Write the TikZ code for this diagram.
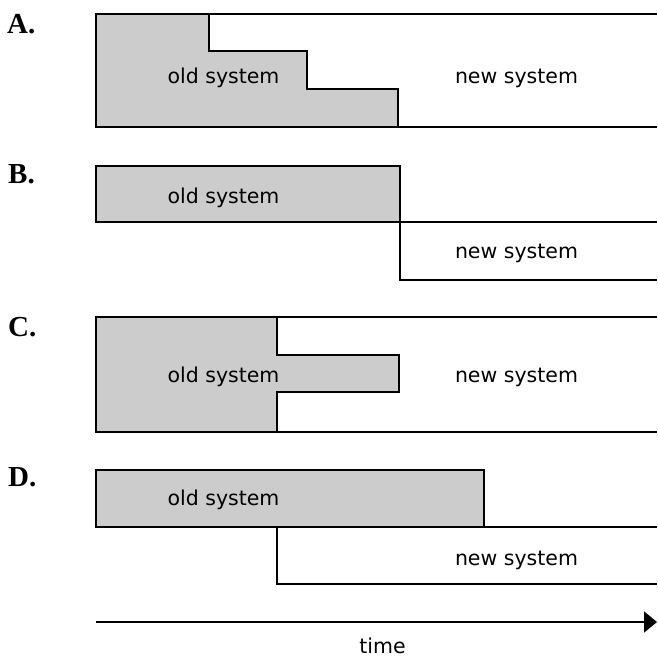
\documentclass[tikz,border=0pt]{standalone}
\usepackage{fontspec}
\setmainfont{DejaVu Sans}
\newfontfamily\labelfont{Liberation Serif}
\usetikzlibrary{arrows.meta}
\definecolor{oldgray}{RGB}{204,204,204}
\begin{document}
\begin{tikzpicture}[x=1pt,y=-1pt,
  outline/.style={draw=black,line width=2pt,line join=miter},
  oldfill/.style={fill=oldgray},
  boxtext/.style={anchor=base,inner sep=0pt,font=\fontsize{20.5}{24}\selectfont},
  rowlabel/.style={anchor=base west,inner sep=0pt,font=\labelfont\bfseries\fontsize{29}{32}\selectfont}]
\useasboundingbox (0,0) rectangle (657,657);
\fill[white] (0,0) rectangle (657,657);

% ---------- A ----------
\fill[oldfill] (96,14) -- (209,14) -- (209,51) -- (307,51) -- (307,89) -- (398,89) -- (398,127) -- (96,127) -- cycle;
\draw[outline] (657,14) -- (96,14) -- (96,127) -- (657,127);
\draw[outline] (209,14) -- (209,51) -- (307,51) -- (307,89) -- (398,89) -- (398,127);
\node[rowlabel] (labA) at (7,33) {A.};
\node[boxtext] (oldA) at (223.5,83) {old system};
\node[boxtext] (newA) at (516.5,83) {new system};

% ---------- B ----------
\fill[oldfill] (96,166) rectangle (400,222);
\draw[outline] (96,166) rectangle (400,222);
\draw[outline] (657,222) -- (400,222) -- (400,280) -- (657,280);
\node[rowlabel] (labB) at (8,183) {B.};
\node[boxtext] (oldB) at (223.5,203) {old system};
\node[boxtext] (newB) at (516.5,258) {new system};

% ---------- C ----------
\fill[oldfill] (96,317) -- (277,317) -- (277,355) -- (399,355) -- (399,392) -- (277,392) -- (277,432) -- (96,432) -- cycle;
\draw[outline] (657,317) -- (96,317) -- (96,432) -- (657,432);
\draw[outline] (277,317) -- (277,355) -- (399,355) -- (399,392) -- (277,392) -- (277,432);
\node[rowlabel] (labC) at (8,336) {C.};
\node[boxtext] (oldC) at (223.5,382) {old system};
\node[boxtext] (newC) at (516.5,382) {new system};

% ---------- D ----------
\fill[oldfill] (96,470) rectangle (484,527);
\draw[outline] (96,470) rectangle (484,527);
\draw[outline] (657,527) -- (277,527) -- (277,584) -- (657,584);
\node[rowlabel] (labD) at (8,486) {D.};
\node[boxtext] (oldD) at (223.5,505) {old system};
\node[boxtext] (newD) at (516.5,565) {new system};

% ---------- time axis ----------
\coordinate (tstart) at (96,622);
\coordinate (tend) at (657,622);
\draw[line width=2pt,-{Triangle[length=13pt,width=21pt]}] (tstart) -- (tend);
\node[boxtext] (timeL) at (382.5,653) {time};
\end{tikzpicture}
\end{document}
